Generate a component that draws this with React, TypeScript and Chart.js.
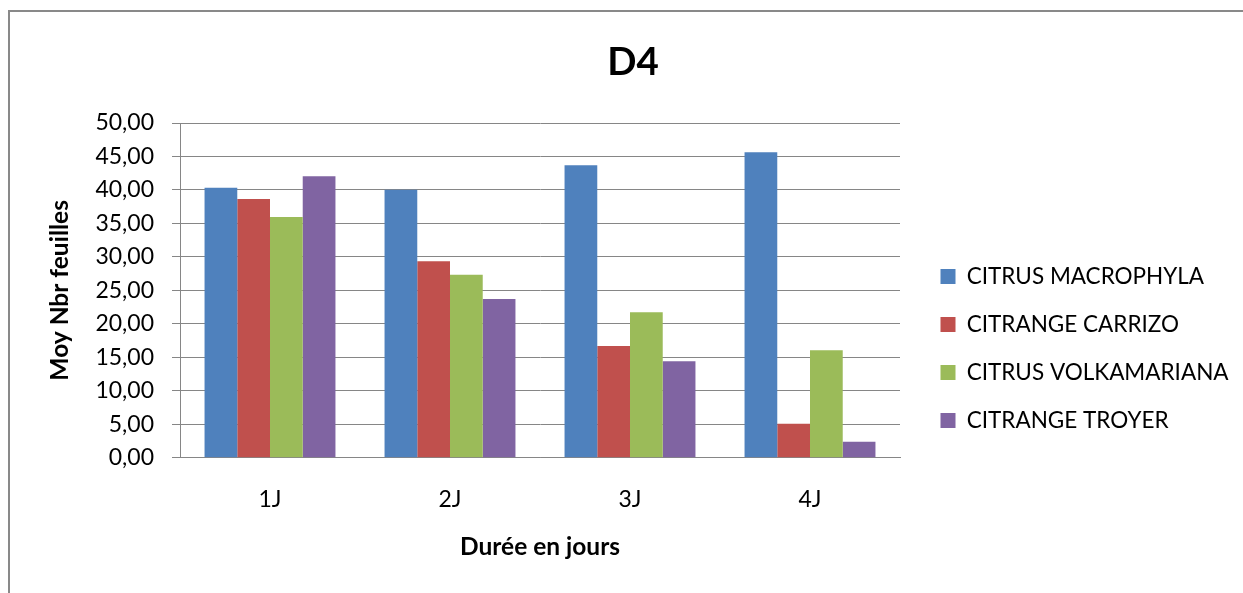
import React, { useEffect, useRef } from "react";
import { Chart, registerables } from "chart.js";

Chart.register(...registerables);

const categories = ["1J", "2J", "3J", "4J"];
const seriesNames = ["CITRUS MACROPHYLA", "CITRANGE CARRIZO", "CITRUS VOLKAMARIANA", "CITRANGE TROYER"];
const citrusMacrophyla = [40.33, 40.04, 43.68, 45.62];
const citrangeCarrizo = [38.65, 29.34, 16.69, 5.08];
const citrusVolkamariana = [35.96, 27.34, 21.72, 16.04];
const citrangeTroyer = [42.04, 23.71, 14.4, 2.39];
const seriesColors = ["#4F81BD", "#C0504D", "#9BBB59", "#8064A2"];
const yMin = 0;
const yMax = 50;
const yStep = 5;

const CANVAS_W = 1246;
const CANVAS_H = 600;
const FONT = "Lato";
const GRID = "#868686";

const LEGEND_WIDTH = 356;
const LEGEND_SHIFT_X = 15;
const LEGEND_SHIFT_Y = -154.75;

const legendPlacement = {
  id: "legendPlacement",
  beforeLayout(chart: any) {
    const lg = chart.legend;
    if (lg && !lg.__patched) {
      const orig = lg.fit.bind(lg);
      lg.fit = function () {
        orig();
        this.width = LEGEND_WIDTH;
      };
      lg.__patched = true;
    }
  },
  afterLayout(chart: any) {
    const lg = chart.legend;
    if (lg) {
      lg.left += LEGEND_SHIFT_X;
      lg.right += LEGEND_SHIFT_X;
      lg.top += LEGEND_SHIFT_Y;
      lg.bottom += LEGEND_SHIFT_Y;
    }
  },
};

export default function App() {
  const ref = useRef<HTMLCanvasElement | null>(null);

  useEffect(() => {
    if (!ref.current) return;
    const series = [citrusMacrophyla, citrangeCarrizo, citrusVolkamariana, citrangeTroyer];
    const chart = new Chart(ref.current, {
      type: "bar",
      data: {
        labels: categories,
        datasets: series.map((d, i) => ({
          label: seriesNames[i],
          data: d,
          backgroundColor: seriesColors[i],
          borderWidth: 0,
          categoryPercentage: 8 / 11,
          barPercentage: 1,
        })),
      },
      options: {
        animation: false,
        responsive: false,
        devicePixelRatio: 1,
        layout: { padding: 0 },
        plugins: {
          tooltip: { enabled: false },
          title: {
            display: true,
            text: "D4",
            color: "#000",
            font: { family: FONT, size: 38.5, weight: "bold" },
            padding: { top: 27, bottom: 37.8 },
          },
          legend: {
            display: true,
            position: "right",
            align: "end",
            labels: {
              boxWidth: 15,
              boxHeight: 15,
              padding: 25.5,
              color: "#000",
              font: { family: FONT, size: 22.5 },
            },
          },
        },
        scales: {
          x: {
            grid: { display: false, drawTicks: false },
            border: { display: true, color: GRID, width: 1 },
            ticks: {
              color: "#000",
              font: { family: FONT, size: 23 },
              padding: 28.5,
            },
            title: {
              display: true,
              text: "Durée en jours",
              color: "#000",
              font: { family: FONT, size: 24.5, weight: "bold" },
              padding: { top: 0, bottom: 50.3 },
            },
            afterFit(scale: any) {
              scale.height = CANVAS_H - 445.7;
            },
          },
          y: {
            min: yMin,
            max: yMax,
            grid: { color: GRID, lineWidth: 1, tickLength: 8, drawTicks: true, tickColor: GRID },
            border: { display: true, color: GRID, width: 1 },
            ticks: {
              stepSize: yStep,
              color: "#000",
              padding: 18,
              font: { family: FONT, size: 23 },
              callback: (v: any) => Number(v).toFixed(2).replace(".", ","),
            },
            title: {
              display: true,
              text: "Moy Nbr feuilles",
              color: "#000",
              font: { family: FONT, size: 24.5, weight: "bold" },
              padding: { top: 35.3, bottom: 0 },
            },
            afterFit(scale: any) {
              scale.width = 170;
            },
          },
        },
      },
      plugins: [legendPlacement],
    });
    return () => chart.destroy();
  }, []);

  return (
    <div style={{ position: "fixed", left: 0, top: 0, width: 1243, height: 593, overflow: "hidden", background: "#fff" }}>
      <div
        style={{
          position: "absolute",
          left: 8,
          top: 10,
          width: CANVAS_W,
          height: CANVAS_H,
          border: "2px solid #898989",
          background: "#fff",
        }}
      >
        <canvas
          ref={ref}
          width={CANVAS_W}
          height={CANVAS_H}
          style={{ display: "block", width: CANVAS_W, height: CANVAS_H }}
        />
      </div>
    </div>
  );
}
